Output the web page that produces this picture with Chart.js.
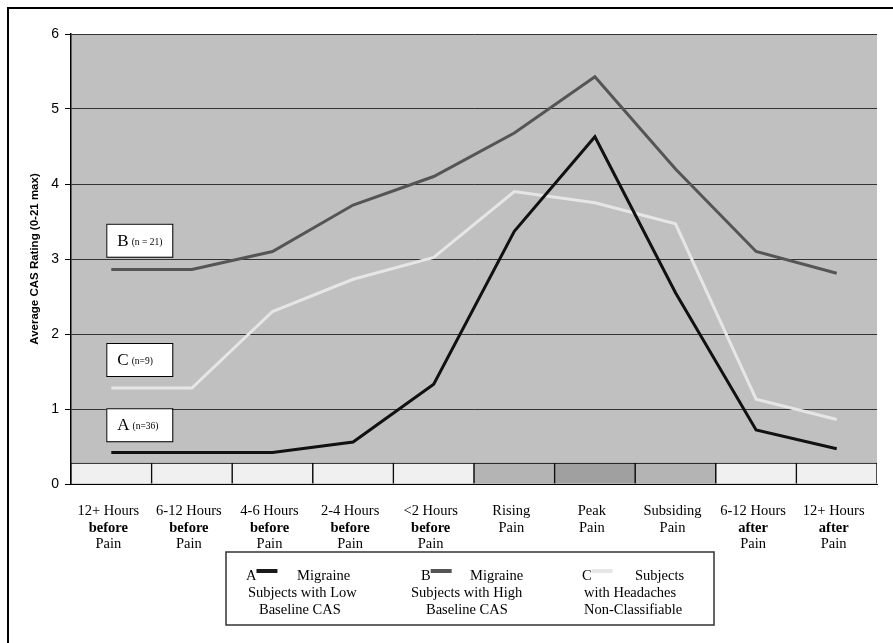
<!DOCTYPE html>
<html>
<head>
<meta charset="utf-8">
<script src="https://cdn.jsdelivr.net/npm/chart.js@4.4.0/dist/chart.umd.min.js"></script>
<style>
  html, body { margin: 0; padding: 0; background: #fff; }
  #wrap { width: 893px; height: 643px; }
</style>
</head>
<body>
<div id="wrap"><canvas id="myChart" width="893" height="643"></canvas></div>
<script>
// ---- data ----
var categories = ['12+ Hours before Pain', '6-12 Hours before Pain', '4-6 Hours before Pain',
  '2-4 Hours before Pain', '<2 Hours before Pain', 'Rising Pain', 'Peak Pain',
  'Subsiding Pain', '6-12 Hours after Pain', '12+ Hours after Pain'];
var tickLines = [
  ['12+ Hours', 'before', 'Pain'],
  ['6-12 Hours', 'before', 'Pain'],
  ['4-6 Hours', 'before', 'Pain'],
  ['2-4 Hours', 'before', 'Pain'],
  ['<2 Hours', 'before', 'Pain'],
  ['Rising', 'Pain'],
  ['Peak', 'Pain'],
  ['Subsiding', 'Pain'],
  ['6-12 Hours', 'after', 'Pain'],
  ['12+ Hours', 'after', 'Pain']
];
var boldWords = ['before', 'after'];
var seriesA = [0.42, 0.42, 0.42, 0.56, 1.33, 3.37, 4.63, 2.55, 0.72, 0.47]; // low baseline
var seriesB = [2.86, 2.86, 3.10, 3.72, 4.10, 4.68, 5.43, 4.20, 3.10, 2.81]; // high baseline
var seriesC = [1.28, 1.28, 2.30, 2.73, 3.02, 3.90, 3.75, 3.47, 1.13, 0.86]; // non-classifiable
var phaseBand = [0.28, 0.28, 0.28, 0.28, 0.28, 0.28, 0.28, 0.28, 0.28, 0.28];
var phaseColors = ['#f0f0f0', '#f0f0f0', '#f0f0f0', '#f0f0f0', '#f0f0f0',
  '#b4b4b4', '#a0a0a0', '#b4b4b4', '#f0f0f0', '#f0f0f0'];
var yTicks = [0, 1, 2, 3, 4, 5, 6];
var yTitle = 'Average CAS Rating (0-21 max)';
var groupTags = [
  { letter: 'B', note: '(n = 21)', at: 3.25 },
  { letter: 'C', note: '(n=9)', at: 1.66 },
  { letter: 'A', note: '(n=36)', at: 0.79 }
];
var legendItems = [
  { letter: 'A', color: '#1a1a1a', lines: ['Migraine', 'Subjects with Low', 'Baseline CAS'] },
  { letter: 'B', color: '#555555', lines: ['Migraine', 'Subjects with High', 'Baseline CAS'] },
  { letter: 'C', color: '#e6e6e6', lines: ['Subjects', 'with Headaches', 'Non-Classifiable'] }
];

var SERIF = '"Liberation Serif", "Times New Roman", serif';
var SANS = '"Liberation Sans", Arial, sans-serif';

// gray plot background + outer frame
var backdrop = {
  id: 'backdrop',
  beforeDraw: function(chart) {
    var c = chart.ctx, a = chart.chartArea;
    c.save();
    c.fillStyle = '#fff';
    c.fillRect(0, 0, chart.width, chart.height);
    c.fillStyle = '#c0c0c0';
    c.fillRect(a.left, a.top, a.right - a.left, a.bottom - a.top);
    c.strokeStyle = '#000';
    c.lineWidth = 2;
    c.beginPath();
    c.moveTo(8, chart.height);
    c.lineTo(8, 8);
    c.lineTo(chart.width, 8);
    c.stroke();
    c.restore();
  }
};

// category labels, A/B/C tags and the legend box
var extras = {
  id: 'extras',
  afterDraw: function(chart) {
    var c = chart.ctx, xs = chart.scales.x, ys = chart.scales.y;
    c.save();
    c.fillStyle = '#000';
    c.textAlign = 'center';
    c.textBaseline = 'middle';
    tickLines.forEach(function(lines, i) {
      var x = xs.getPixelForValue(i) - 3;
      lines.forEach(function(t, k) {
        var bold = boldWords.indexOf(t) >= 0;
        c.font = (bold ? 'bold ' : '') + '14.5px ' + SERIF;
        c.fillText(t, x, 511 + k * 16.8);
      });
    });

    // group tags
    var x0 = xs.getPixelForValue(0) - 5;
    groupTags.forEach(function(g) {
      var cy = ys.getPixelForValue(g.at);
      c.fillStyle = '#fff';
      c.fillRect(x0, cy - 16.5, 66, 33);
      c.strokeStyle = '#000';
      c.lineWidth = 1;
      c.strokeRect(x0 + 0.5, cy - 16, 66, 33);
      c.fillStyle = '#000';
      c.textAlign = 'left';
      c.font = '17px ' + SERIF;
      c.fillText(g.letter, x0 + 11, cy + 1);
      var w = c.measureText(g.letter).width;
      c.font = '9.5px ' + SERIF;
      c.fillText(g.note, x0 + 14 + w, cy + 2);
    });

    // legend box
    c.strokeStyle = '#333';
    c.lineWidth = 1.5;
    c.strokeRect(226, 552, 488, 73);
    var cols = [
      { lx: 248, mx: 297, l2: 248, l3: 259 },
      { lx: 423, mx: 470, l2: 411, l3: 426 },
      { lx: 584, mx: 635, l2: 584, l3: 584 }
    ];
    legendItems.forEach(function(it, i) {
      var p = cols[i];
      c.font = '14.5px ' + SERIF;
      c.fillStyle = '#000';
      c.textAlign = 'left';
      c.fillText(it.letter, p.lx - 2, 576);
      var lw = c.measureText(it.letter).width;
      c.fillStyle = it.color;
      c.fillRect(p.lx - 2 + lw, 569, 21, 4);
      c.fillStyle = '#000';
      c.fillText(it.lines[0], p.mx, 576);
      c.fillText(it.lines[1], p.l2, 593);
      c.fillText(it.lines[2], p.l3, 610);
    });
    c.restore();
  }
};

new Chart(document.getElementById('myChart'), {
  data: {
    labels: categories,
    datasets: [
      { type: 'line', label: 'A', data: seriesA, borderColor: '#111', borderWidth: 3,
        pointRadius: 0, tension: 0, order: 1 },
      { type: 'line', label: 'C', data: seriesC, borderColor: '#e6e6e6', borderWidth: 3,
        pointRadius: 0, tension: 0, order: 2 },
      { type: 'line', label: 'B', data: seriesB, borderColor: '#555', borderWidth: 3,
        pointRadius: 0, tension: 0, order: 3 },
      { type: 'bar', label: 'phase', data: phaseBand, backgroundColor: phaseColors,
        borderColor: '#000', borderWidth: 1, barPercentage: 1, categoryPercentage: 1, order: 10 }
    ]
  },
  options: {
    responsive: false,
    animation: false,
    devicePixelRatio: 1,
    layout: { padding: { left: 0, top: 34, right: 16, bottom: 0 } },
    plugins: { legend: { display: false }, tooltip: { enabled: false } },
    scales: {
      x: {
        type: 'category',
        offset: true,
        grid: { display: false },
        border: { display: true, color: '#000' },
        ticks: { display: false },
        afterFit: function(s) { s.height = 159; }
      },
      y: {
        min: 0, max: 6,
        afterBuildTicks: function(s) { s.ticks = yTicks.map(function(v) { return { value: v }; }); },
        grid: { color: '#333', lineWidth: 1, tickLength: 6, tickColor: '#000' },
        border: { display: true, color: '#000', width: 1.5 },
        ticks: { color: '#000', padding: 6, font: { family: SANS, size: 14 } },
        title: { display: true, text: yTitle, color: '#000', padding: { top: 28, bottom: 0 },
          font: { family: SANS, size: 11.5, weight: 'bold' } },
        afterFit: function(s) { s.width = 71; }
      }
    }
  },
  plugins: [backdrop, extras]
});
</script>
</body>
</html>
